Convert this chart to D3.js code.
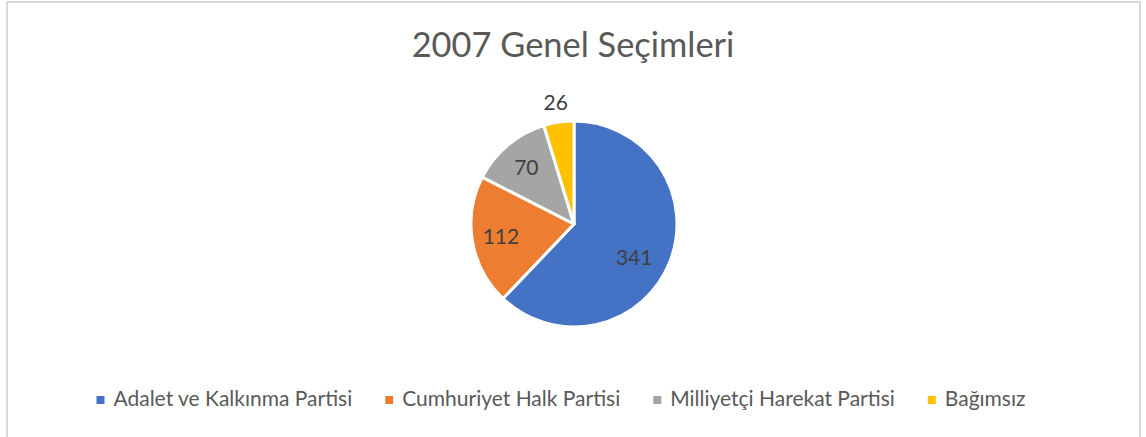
<!DOCTYPE html>
<html>
<head>
<meta charset="utf-8">
<script src="https://cdn.jsdelivr.net/npm/d3@7"></script>
<style>
  body { margin: 0; background: #fff; }
  text { font-family: Lato, "Open Sans", sans-serif; }
</style>
</head>
<body>
<svg id="chart" width="1146" height="437"></svg>
<script>
// election results, 2007
const parties = ["Adalet ve Kalkınma Partisi", "Cumhuriyet Halk Partisi", "Milliyetçi Harekat Partisi", "Bağımsız"];
const seats = [341, 112, 70, 26];
const colors = ["#4472c4", "#ed7d31", "#a5a5a5", "#ffc000"];
const title = "2007 Genel Seçimleri";

const width = 1146, height = 437;
const svg = d3.select("#chart");

// chart frame (bottom edge is off the picture)
svg.append("path")
    .attr("d", `M7,${height+5} V2 H1140 V${height+5}`)
    .attr("fill", "none")
    .attr("stroke", "#d9d9d9")
    .attr("stroke-width", 2);

svg.append("text")
    .attr("x", 573)
    .attr("y", 57)
    .attr("text-anchor", "middle")
    .attr("fill", "#595959")
    .style("font-size", "34.4px")
    .text(title);

const data = parties.map((name, i) => ({name, value: seats[i], color: colors[i]}));

const cx = 574, cy = 224, radius = 103;
const g = svg.append("g").attr("transform", `translate(${cx},${cy})`);

const pie = d3.pie().sort(null).value(d => d.value);
const arcs = pie(data);
const arc = d3.arc().innerRadius(0).outerRadius(radius);

g.selectAll("path")
    .data(arcs)
    .join("path")
    .attr("d", arc)
    .attr("fill", d => d.data.color)
    .attr("stroke", "#fff")
    .attr("stroke-width", 3)
    .attr("stroke-linejoin", "round");

// labels: inside for the big ones, just outside for the small slice
// (excel's best fit nudges the big slice label a bit further round)
const inner = d3.arc().innerRadius(radius * 0.72).outerRadius(radius * 0.72);
const outer = d3.arc().innerRadius(radius + 20).outerRadius(radius + 20);

g.selectAll("text")
    .data(arcs)
    .join("text")
    .attr("transform", d => {
        let p;
        if ((d.endAngle - d.startAngle) < 0.4) p = outer.centroid(d);
        else if ((d.endAngle - d.startAngle) > Math.PI) {
            const a = (d.startAngle + d.endAngle) / 2 + 0.13;
            p = [Math.sin(a) * radius * 0.67, -Math.cos(a) * radius * 0.67];
        }
        else p = inner.centroid(d);
        return `translate(${p[0]},${p[1]})`;
    })
    .attr("text-anchor", "middle")
    .attr("dy", "0.35em")
    .attr("fill", "#404040")
    .style("font-size", "21px")
    .text(d => d.data.value);

// legend
const legend = svg.append("g");
const items = legend.selectAll("g")
    .data(data)
    .join("g");
items.append("rect")
    .attr("width", 8).attr("height", 8)
    .attr("y", -10)
    .attr("fill", d => d.color);
items.append("text")
    .attr("x", 17)
    .attr("fill", "#595959")
    .style("font-size", "21px")
    .text(d => d.name);

let xpos = 0;
items.each(function() {
    const w = 17 + this.querySelector("text").getComputedTextLength();
    d3.select(this).attr("transform", `translate(${xpos},0)`);
    xpos += w + 33;
});
const total = xpos - 33;
legend.attr("transform", `translate(${561 - total / 2},406)`);
</script>
</body>
</html>
